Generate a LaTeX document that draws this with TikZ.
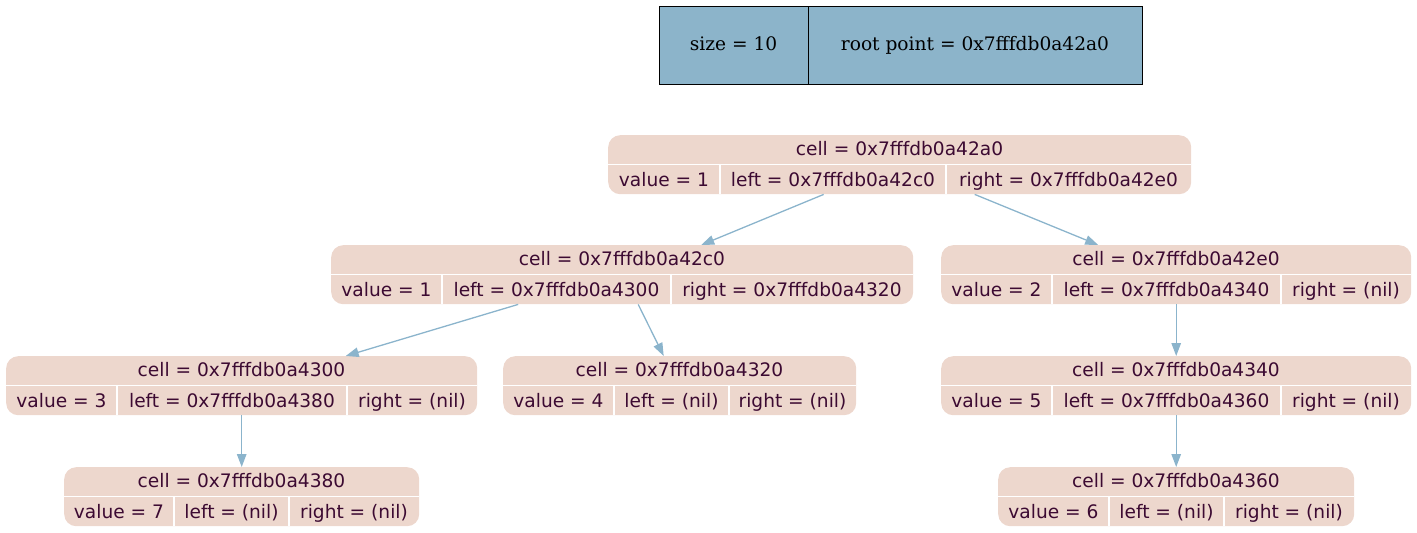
\documentclass[tikz,border=0pt]{standalone}
\usepackage{fontspec}
\setmainfont{DejaVu Serif}
\newfontfamily\cellfont{DejaVu Sans}
\usepackage{tikz}
\usetikzlibrary{arrows.meta,calc}

\definecolor{cellpink}{RGB}{237,215,205}
\definecolor{celltext}{RGB}{60,10,50}
\definecolor{edgeblue}{RGB}{139,180,204}
\definecolor{headblue}{RGB}{140,180,202}

\tikzset{
  cellbg/.style={fill=cellpink, rounded corners=12pt, inner sep=0pt, anchor=north west},
  fld/.style={text=celltext, font=\cellfont\fontsize{18.6}{20}\selectfont, inner sep=0pt, anchor=base},
  sep/.style={white, line width=1.5pt},
  edge/.style={edgeblue, line width=1.3pt, -{Triangle[length=13pt,width=9.5pt]}},
  infobox/.style={draw=black, fill=headblue, line width=1pt, minimum height=78pt,
    inner sep=0pt, outer sep=0pt, text height=14pt, text depth=4pt,
    anchor=north west, font=\fontsize{18.6}{20}\selectfont},
}

% #1 address end, #2 left x, #3 right x, #4 #5 dividers, #6 top y, #7 value, #8 left, #9 right
\newcommand{\cellrec}[9]{%
  \node[cellbg, minimum width={(#3-#2)*1pt}, minimum height=59pt] (c#1) at (#2,#6) {};
  \node[fld] (c#1h) at ({(#2+#3)/2},#6+20) {cell = 0x7fffdb0a#1};
  \node[fld] (c#1v) at ({(#2+#4)/2},#6+51) {value = #7};
  \node[fld] (c#1l) at ({(#4+#5)/2},#6+51) {left = #8};
  \node[fld] (c#1r) at ({(#5+#3)/2},#6+51) {right = #9};
  \draw[sep] (#2,#6+29.5) -- (#3,#6+29.5);
  \draw[sep] (#4,#6+29.5) -- (#4,#6+59);
  \draw[sep] (#5,#6+29.5) -- (#5,#6+59);
}

\begin{document}
\begin{tikzpicture}[x=1pt,y=-1pt]
\useasboundingbox (0,0) rectangle (1417,533);

% list header
\node[infobox, minimum width=149pt] (sizebox) at (659,6) {size = 10};
\node[infobox, minimum width=334pt] (rootbox) at (sizebox.north east) {root point = 0x7fffdb0a42a0};

% cells
\cellrec{42a0}{608}{1191}{720}{946}{135}{1}{0x7fffdb0a42c0}{0x7fffdb0a42e0}
\cellrec{42c0}{331}{913}{442}{671}{245}{1}{0x7fffdb0a4300}{0x7fffdb0a4320}
\cellrec{42e0}{941}{1411}{1052}{1281}{245}{2}{0x7fffdb0a4340}{(nil)}
\cellrec{4300}{6}{477}{117}{347}{356}{3}{0x7fffdb0a4380}{(nil)}
\cellrec{4320}{503}{856}{614}{729}{356}{4}{(nil)}{(nil)}
\cellrec{4340}{941}{1411}{1052}{1281}{356}{5}{0x7fffdb0a4360}{(nil)}
\cellrec{4380}{64}{419}{174}{289}{467}{7}{(nil)}{(nil)}
\cellrec{4360}{998}{1354}{1109}{1224}{467}{6}{(nil)}{(nil)}

% links
\draw[edge] ([xshift=-76pt]c42a0.south) -- ([xshift=79pt]c42c0.north);
\draw[edge] ([xshift=75pt]c42a0.south) -- ([xshift=-78pt]c42e0.north);
\draw[edge] ([xshift=-104pt]c42c0.south) -- ([xshift=104pt]c4300.north);
\draw[edge] ([xshift=16pt]c42c0.south) -- ([xshift=-16pt]c4320.north);
\draw[edge] (c42e0.south) -- (c4340.north);
\draw[edge] (c4300.south) -- (c4380.north);
\draw[edge] (c4340.south) -- (c4360.north);
\end{tikzpicture}
\end{document}
